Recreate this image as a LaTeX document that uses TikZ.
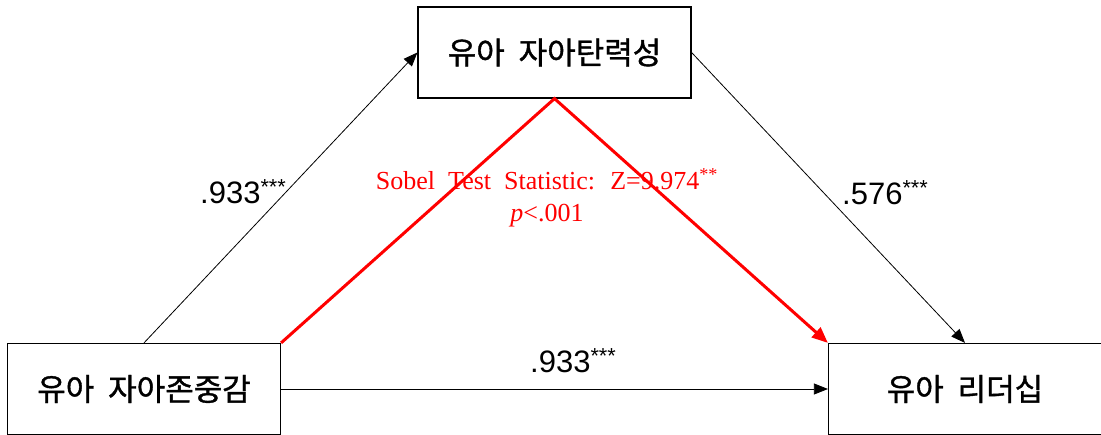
\documentclass[tikz,border=0pt]{standalone}
\usepackage{fontspec}
\setmainfont{Liberation Serif}
\newfontfamily\korfont{Noto Sans CJK KR}[FakeBold=1.2]
\newfontfamily\numfont{Liberation Sans}
\newfontfamily\sobelfont{Liberation Serif}[WordSpace=2]
\usetikzlibrary{arrows.meta}
\begin{document}
\begin{tikzpicture}[
    x=1pt, y=-1pt,
    box/.style={draw, line width=1.2pt, minimum width=273pt, minimum height=91pt, inner sep=0pt,
                font=\korfont\fontsize{31}{36}\selectfont},
    coef/.style={font=\numfont\fontsize{31}{36}\selectfont, inner sep=0pt},
    link/.style={line width=0.8pt, -{Triangle[length=14pt, width=11pt]}},
    sobel/.style={red, line width=3pt, -{Triangle[length=16pt, width=13pt]}}
]
    \useasboundingbox (0,0) rectangle (1101,435);

    \node[box] (resil) at (554.5,52.5) {유아~~자아탄력성};
    \node[box] (esteem) at (144,389) {유아~~자아존중감};
    \node[box] (leader) at (965,389) {유아~~리더십};

    \draw[link] (esteem.north) -- (resil.west);
    \draw[link] (resil.east) -- (leader.north);
    \draw[link] (esteem.east) -- (leader.west);
    \draw[sobel] (esteem.north east) -- (resil.south) -- (leader.north west);

    \node[coef, anchor=base west] (a) at (200,204) {.933\textsuperscript{***}};
    \node[coef, anchor=base west] (b) at (842,205) {.576\textsuperscript{***}};
    \node[coef, anchor=base west] (c) at (530,373) {.933\textsuperscript{***}};
    \node[red, align=center, inner sep=0pt, font=\sobelfont\fontsize{26}{32}\selectfont]
        (test) at (547,198) {Sobel Test Statistic: Z=9.974\textsuperscript{**}\\ \textit{p}<.001};
\end{tikzpicture}
\end{document}
